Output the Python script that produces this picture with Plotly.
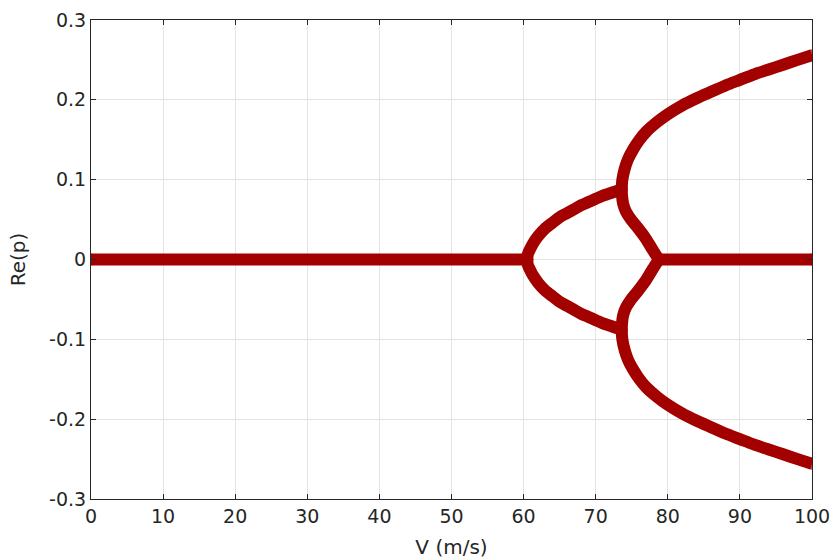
import plotly.graph_objects as go

# Real part of the system eigenvalues versus airspeed V (m/s).
# Upper half of each branch is listed; the spectrum is symmetric, so the
# lower half is the mirror image (-Re).

# Stable region: both pairs purely imaginary (Re = 0)
v_zero_left = [0, 5, 10, 15, 20, 25, 30, 35, 40, 45, 50, 55, 60, 60.5]
re_zero_left = [0, 0, 0, 0, 0, 0, 0, 0, 0, 0, 0, 0, 0, 0]

# First split (divergence lobe), from V ~ 60.5 to the coalescence at ~73.6
v_lobe = [60.5, 60.6, 60.9, 61.3, 62.0, 63.0, 64.0, 65.0, 66.0, 67.0,
          68.0, 69.0, 70.0, 71.0, 72.0, 73.0, 73.6]
re_lobe = [0.0, 0.007, 0.013, 0.020, 0.029, 0.039, 0.046, 0.053, 0.058, 0.063,
           0.068, 0.072, 0.076, 0.080, 0.083, 0.086, 0.087]

# Outer branch growing to V = 100
v_outer = [73.6, 73.7, 74.0, 74.5, 75.2, 76.0, 77.0, 78.5, 80.0, 82.0,
           84.0, 86.0, 88.0, 90.0, 92.0, 94.0, 96.0, 98.0, 100.0]
re_outer = [0.089, 0.100, 0.113, 0.126, 0.138, 0.149, 0.160, 0.172, 0.182, 0.193,
            0.202, 0.210, 0.218, 0.225, 0.232, 0.238, 0.244, 0.250, 0.256]

# Inner branch returning to zero at V ~ 78.8
v_inner = [73.6, 73.65, 73.8, 74.2, 74.9, 75.8, 76.8, 77.7, 78.4, 78.8]
re_inner = [0.089, 0.080, 0.070, 0.060, 0.050, 0.040, 0.028, 0.015, 0.005, 0.0]

# Zero branch after the inner pair recombines
v_zero_right = [78.8, 80, 85, 90, 95, 100]
re_zero_right = [0, 0, 0, 0, 0, 0]

x_ticks = [0, 10, 20, 30, 40, 50, 60, 70, 80, 90, 100]
y_ticks = [-0.3, -0.2, -0.1, 0, 0.1, 0.2, 0.3]
y_tick_text = ["-0.3", "-0.2", "-0.1", "0", "0.1", "0.2", "0.3"]

FILL = "#a30000"
WIDTH = 12


def branch(v, re):
    # thick smooth band with round caps: a marker only at each end of the branch
    sizes = [WIDTH if i in (0, len(v) - 1) else 0 for i in range(len(v))]
    return go.Scatter(
        x=v, y=re, mode="lines+markers",
        line=dict(color=FILL, width=WIDTH, shape="spline", smoothing=0.8,
                  simplify=False),
        marker=dict(symbol="circle", size=sizes, color=FILL, line=dict(width=0)),
        showlegend=False, hoverinfo="x+y",
    )


fig = go.Figure()
fig.add_trace(branch(v_zero_left, re_zero_left))
for v, re in [(v_lobe, re_lobe), (v_outer, re_outer), (v_inner, re_inner)]:
    fig.add_trace(branch(v, re))
    fig.add_trace(branch(v, [-r for r in re]))
fig.add_trace(branch(v_zero_right, re_zero_right))

FAMILY = "DejaVu Sans, Arial, sans-serif"
axis_font = dict(family=FAMILY, size=19, color="#262626")
title_font = dict(family=FAMILY, size=20, color="#262626")
common = dict(
    showgrid=True, gridcolor="#e3e3e3", gridwidth=1,
    showline=True, linecolor="#262626", linewidth=1, mirror="ticks",
    ticks="inside", ticklen=5, tickcolor="#262626", tickwidth=1,
    zeroline=False, tickfont=axis_font, automargin=False,
)

fig.update_xaxes(range=[0, 100], tickvals=x_ticks,
                 title=dict(text="V (m/s)", font=title_font, standoff=14),
                 **common)
fig.update_yaxes(range=[-0.3, 0.3], tickvals=y_ticks, ticktext=y_tick_text,
                 title=dict(text="Re(p)", font=title_font, standoff=18),
                 **common)

fig.update_layout(
    width=835, height=560,
    margin=dict(l=91, r=23, t=20, b=61, autoexpand=False),
    paper_bgcolor="white", plot_bgcolor="white",
)

fig.write_html("out.html")
